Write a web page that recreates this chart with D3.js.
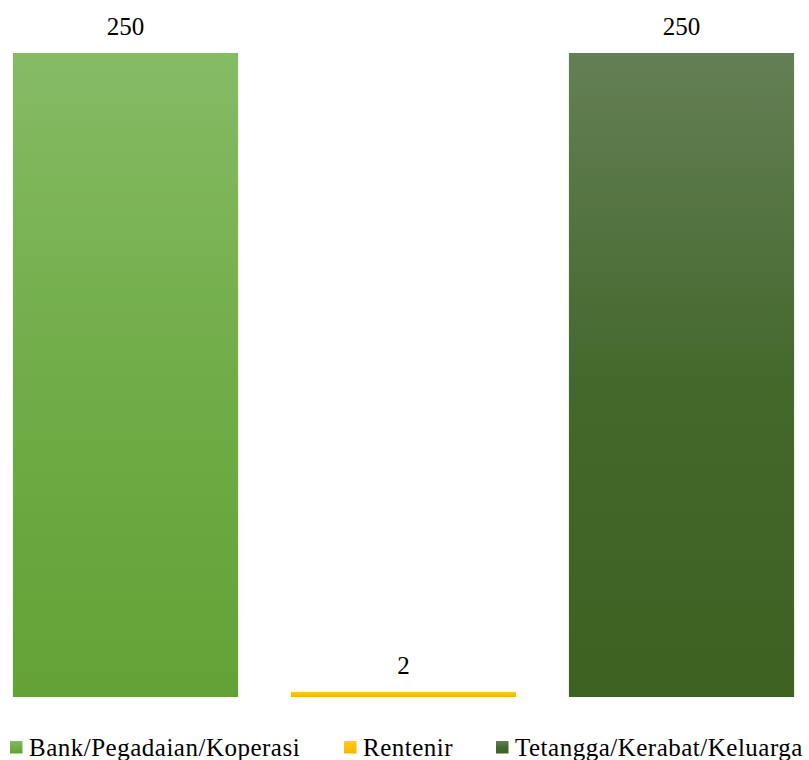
<!DOCTYPE html>
<html>
<head>
<meta charset="utf-8">
<script src="https://cdn.jsdelivr.net/npm/d3@7"></script>
<style>
  html, body { margin: 0; padding: 0; background: #fff; }
  svg { display: block; }
  text { font-family: "Liberation Serif", "DejaVu Serif", serif; fill: #000; }
</style>
</head>
<body>
<svg id="chart" width="809" height="760"></svg>
<script>
// Sumber pinjaman responden
const categories = ["Bank/Pegadaian/Koperasi", "Rentenir", "Tetangga/Kerabat/Keluarga"];
const values = [250, 2, 250];
// gradient stops per bar: top, middle, bottom
const gradTop = ["#86bb66", "#ffcb2a", "#647f56"];
const gradMid = ["#70ad47", "#ffc000", "#44692c"];
const gradBot = ["#62a236", "#f2b700", "#3d6121"];

const svg = d3.select("#chart");

const x = d3.scaleBand()
  .domain(categories)
  .range([-13.5, 820.5])
  .paddingInner(0.19)
  .paddingOuter(0.095);

const y = d3.scaleLinear()
  .domain([0, 250])
  .range([697, 53]);

const defs = svg.append("defs");
categories.forEach((c, i) => {
  const g = defs.append("linearGradient")
    .attr("id", "grad" + i)
    .attr("x1", 0).attr("y1", 0).attr("x2", 0).attr("y2", 1);
  g.append("stop").attr("offset", "0%").attr("stop-color", gradTop[i]);
  g.append("stop").attr("offset", "50%").attr("stop-color", gradMid[i]);
  g.append("stop").attr("offset", "100%").attr("stop-color", gradBot[i]);
});

svg.selectAll("rect.bar")
  .data(values)
  .join("rect")
  .attr("class", "bar")
  .attr("x", (d, i) => x(categories[i]))
  .attr("width", x.bandwidth())
  .attr("y", d => y(d))
  .attr("height", d => y(0) - y(d))
  .attr("fill", (d, i) => `url(#grad${i})`);

svg.selectAll("text.val")
  .data(values)
  .join("text")
  .attr("class", "val")
  .attr("x", (d, i) => x(categories[i]) + x.bandwidth() / 2)
  .attr("y", d => y(d) - 18)
  .attr("text-anchor", "middle")
  .attr("font-size", 25)
  .text(d => d);

// legend
const legendX = [10, 344, 496];
const lg = svg.selectAll("g.legend")
  .data(categories)
  .join("g")
  .attr("class", "legend")
  .attr("transform", (d, i) => `translate(${legendX[i]},741)`);
lg.append("rect")
  .attr("width", 12.5).attr("height", 12.5)
  .attr("fill", (d, i) => `url(#grad${i})`);
lg.append("text")
  .attr("x", 19).attr("y", 15)
  .attr("font-size", 25)
  .attr("letter-spacing", 0.5)
  .text(d => d);
</script>
</body>
</html>
